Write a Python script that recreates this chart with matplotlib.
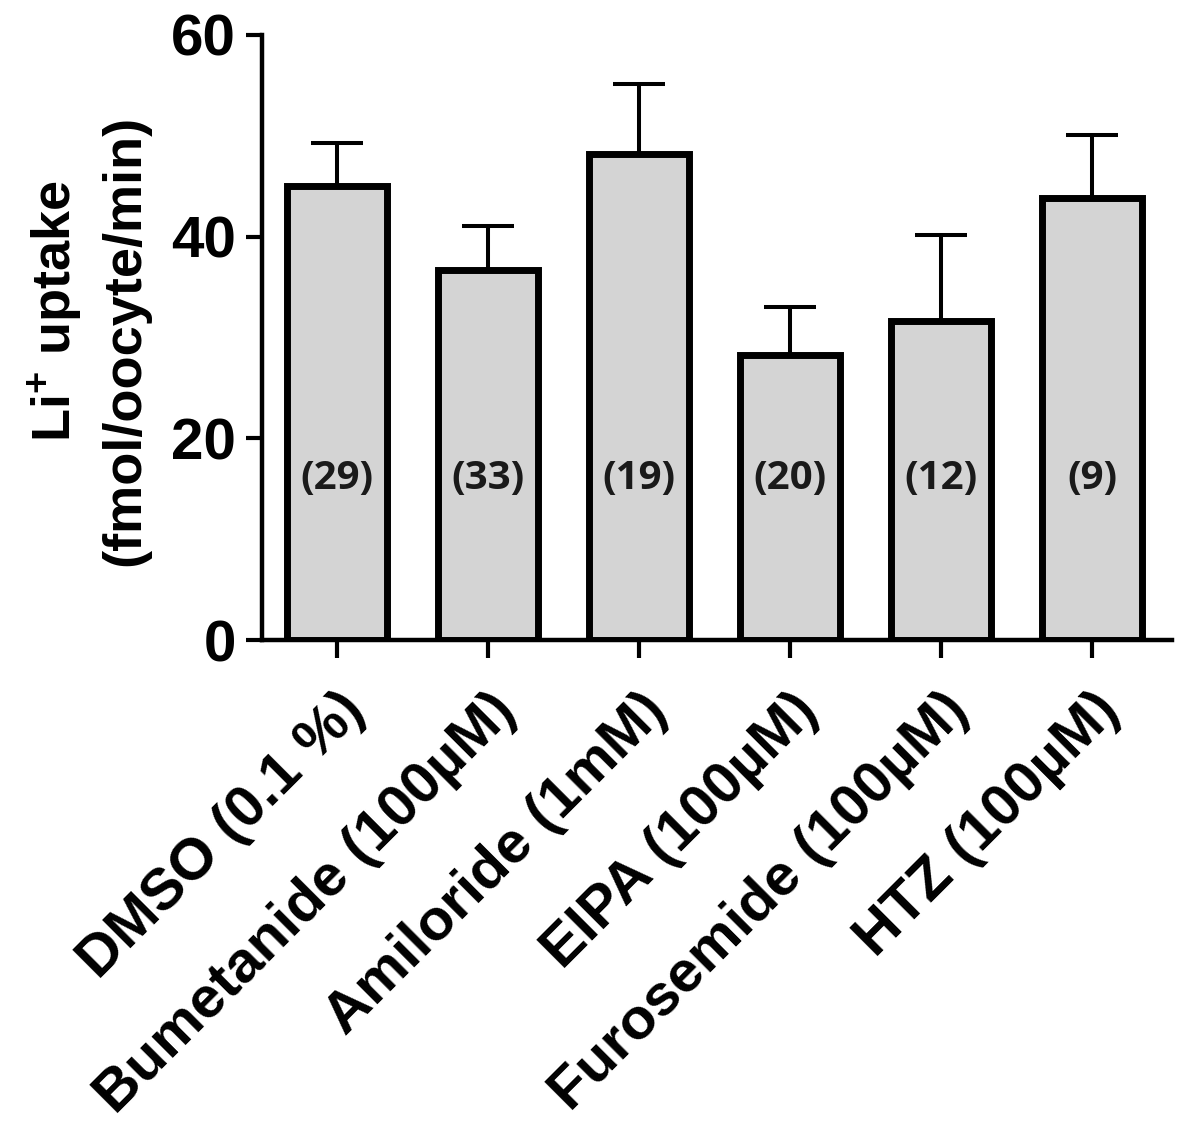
import matplotlib
matplotlib.use("Agg")
import matplotlib.pyplot as plt
import matplotlib.transforms as mtransforms
import numpy as np

# data
treatments = ["DMSO (0.1 %)", "Bumetanide (100µM)", "Amiloride (1mM)",
              "EIPA (100µM)", "Furosemide (100µM)", "HTZ (100µM)"]
uptake_mean = [45.0, 36.7, 48.2, 28.3, 31.6, 43.8]
uptake_err = [4.3, 4.4, 6.9, 4.7, 8.6, 6.3]
n_oocytes = [29, 33, 19, 20, 12, 9]

plt.rcParams["font.family"] = ["Liberation Sans", "DejaVu Sans"]
plt.rcParams["font.weight"] = "bold"
plt.rcParams["mathtext.fontset"] = "custom"
plt.rcParams["mathtext.rm"] = "Liberation Sans:bold"
plt.rcParams["mathtext.bf"] = "Liberation Sans:bold"

fig = plt.figure(figsize=(11.94, 11.33), dpi=100)
ax = fig.add_axes([261.5 / 1194, 1 - 640 / 1133, (1172 - 261.5) / 1194, (640 - 35) / 1133])

x = np.arange(len(treatments))
low = np.zeros(len(uptake_err))

# error bars first so the bar outline covers the lower cap
ax.errorbar(x, uptake_mean, yerr=[low, uptake_err], fmt="none", ecolor="black",
            elinewidth=2.9, capsize=18.5, capthick=2.9, zorder=1)
ax.bar(x, uptake_mean, width=0.66, color="#d4d4d4", edgecolor="black",
       linewidth=5, zorder=2)

for xi, n in zip(x, n_oocytes):
    ax.text(xi, 16, f"({n})", ha="center", va="center", fontsize=29,
            family="Open Sans", fontweight="bold", color="#1a1a1a", zorder=3)

ax.set_xlim(-0.5, 5.53)
ax.set_ylim(0, 60)
ax.set_yticks([0, 20, 40, 60])
ax.set_xticks(x)
ax.set_xticklabels(treatments, rotation=45, ha="right", va="top",
                   rotation_mode="anchor", fontsize=42, fontweight="bold")
shift = mtransforms.ScaledTranslation(-4 / 100, 0, fig.dpi_scale_trans)
for lab in ax.get_xticklabels():
    lab.set_transform(lab.get_transform() + shift)

for lab in ax.get_yticklabels():
    lab.set_fontsize(42)
    lab.set_fontweight("bold")

ax.spines["top"].set_visible(False)
ax.spines["right"].set_visible(False)
ax.spines["left"].set_linewidth(3.2)
ax.spines["bottom"].set_linewidth(3.2)
ax.tick_params(axis="y", length=11.5, width=3, pad=7)
ax.tick_params(axis="x", length=13, width=3, pad=18)

fig.text(55 / 1194, 1 - 311 / 1133, r"Li$^{+}$ uptake", rotation=90,
         ha="center", va="center", fontsize=39, fontweight="bold")
fig.text(125 / 1194, 1 - 340 / 1133, "(fmol/oocyte/min)", rotation=90,
         ha="center", va="center", fontsize=39, fontweight="bold")

fig.savefig("out.png", dpi=100, facecolor="white")
